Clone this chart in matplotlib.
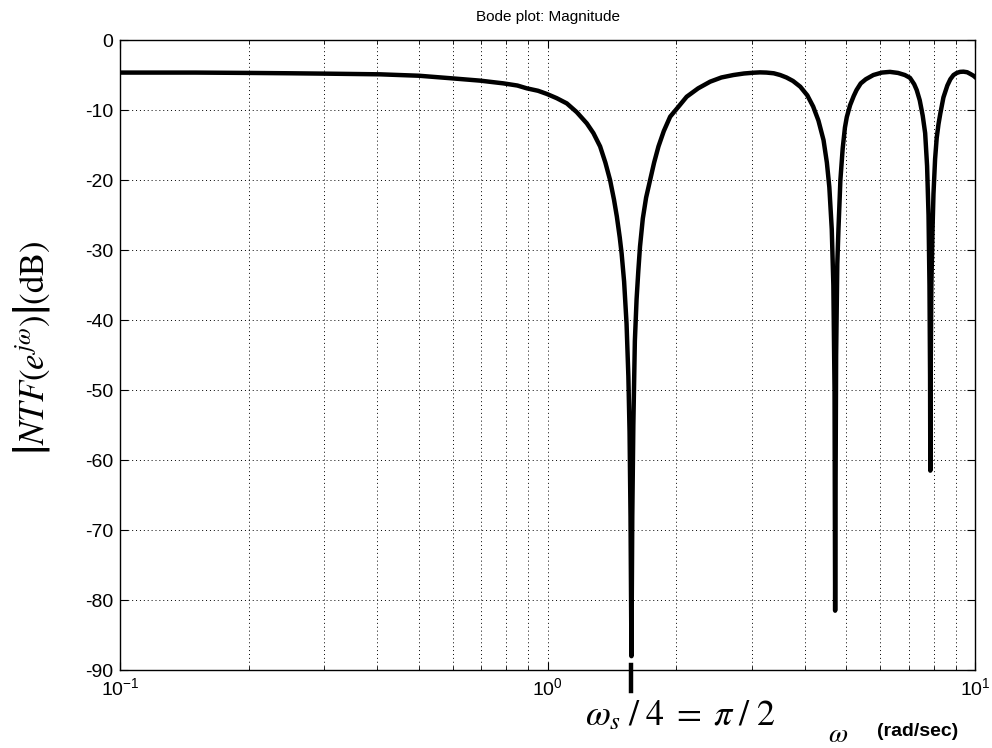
import matplotlib
matplotlib.use("Agg")
import matplotlib.pyplot as plt
import numpy as np

# Bode magnitude of the NTF (rad/sec, dB)
omega = [0.10, 0.15, 0.20, 0.25, 0.30, 0.35, 0.406, 0.45, 0.50, 0.591, 0.695, 0.788,
         0.85, 0.894, 0.95, 0.996, 1.05, 1.109, 1.17, 1.235, 1.28, 1.327, 1.365,
         1.40, 1.43, 1.452, 1.475, 1.49, 1.51, 1.53, 1.545, 1.555, 1.563, 1.5708,
         1.578, 1.587, 1.60, 1.615, 1.63, 1.645, 1.67, 1.70, 1.737, 1.775, 1.817,
         1.87, 1.935, 2.0, 2.115, 2.25, 2.40, 2.55, 2.72, 2.88, 3.03, 3.14, 3.25,
         3.38, 3.50, 3.62, 3.75, 3.90, 4.05, 4.18, 4.30, 4.42, 4.50, 4.56, 4.62,
         4.66, 4.69, 4.705, 4.715, 4.73, 4.76, 4.79, 4.84, 4.90, 4.96, 5.01, 5.10,
         5.20, 5.28, 5.40, 5.55, 5.78, 6.05, 6.32, 6.60, 6.85, 7.04, 7.20, 7.30,
         7.42, 7.54, 7.64, 7.72, 7.78, 7.82, 7.845, 7.855, 7.87, 7.90, 7.95, 7.99,
         8.06, 8.13, 8.21, 8.29, 8.43, 8.61, 8.75, 8.90, 9.06, 9.22, 9.39, 9.58,
         9.75, 9.91, 10.0]
mag_db = [-4.65, -4.65, -4.7, -4.75, -4.8, -4.85, -4.9, -5.0, -5.1, -5.45, -5.8, -6.19,
          -6.5, -6.9, -7.25, -7.7, -8.3, -9.05, -10.3, -11.9, -13.3, -15.2, -17.5,
          -20.0, -22.8, -25.2, -28.2, -30.5, -34.5, -40.5, -48.0, -56.0, -68.0, -88.0,
          -68.0, -55.0, -43.0, -37.0, -33.0, -29.5, -25.5, -22.5, -20.0, -17.5, -15.2,
          -13.0, -10.95, -9.9, -8.1, -6.9, -5.95, -5.35, -5.0, -4.78, -4.67, -4.62, -4.65,
          -4.75, -5.0, -5.35, -5.85, -6.67, -7.9, -9.5, -11.5, -14.3, -17.5, -21.0, -27.0,
          -35.0, -50.0, -81.5, -65.0, -45.0, -32.0, -27.0, -20.0, -15.5, -12.5, -11.0, -9.3,
          -8.0, -7.14, -6.2, -5.6, -5.0, -4.65, -4.55, -4.7, -5.0, -5.4, -6.3, -7.14,
          -8.6, -10.8, -13.3, -18.0, -25.0, -35.0, -48.0, -61.5, -48.0, -35.0, -27.0, -22.0,
          -17.0, -14.0, -12.0, -10.5, -8.2, -6.5, -5.6, -5.0, -4.7, -4.55, -4.52, -4.6,
          -4.85, -5.1, -5.3]

x_ticks = [0.1, 1.0, 10.0]
x_tick_labels = [r'$\mathregular{10^{-1}}$', r'$\mathregular{10^{0}}$', r'$\mathregular{10^{1}}$']
y_ticks = [0, -10, -20, -30, -40, -50, -60, -70, -80, -90]

plt.rcParams['font.family'] = ['Liberation Sans', 'DejaVu Sans']
plt.rcParams['axes.unicode_minus'] = False
plt.rcParams['mathtext.fontset'] = 'stix'

fig = plt.figure(figsize=(9.92, 7.48), dpi=100)
ax = fig.add_axes([0.121, 0.104, 0.862, 0.8425])

ax.semilogx(omega, mag_db, color='black', lw=3.2, solid_joinstyle='round')

# little marker below the first notch at pi/2
ax.plot([np.pi / 2, np.pi / 2], [-89.2, -93.0], color='black', lw=3.2, clip_on=False)

ax.set_xlim(0.1, 10)
ax.set_ylim(-90, 0)
ax.set_xticks(x_ticks)
ax.set_xticklabels(x_tick_labels, fontsize=14)
ax.set_yticks(y_ticks)
ax.set_yticklabels([str(v) for v in y_ticks], fontsize=14)
ax.tick_params(which='both', direction='in', top=True, right=True, length=6)
ax.tick_params(which='minor', length=3)
ax.tick_params(axis='x', pad=5)
ax.tick_params(axis='y', pad=5)

ax.grid(True, which='major', linestyle=(0, (1, 3)), color='black', lw=0.7)
ax.grid(True, which='minor', axis='x', linestyle=(0, (1, 3)), color='black', lw=0.7)
for s in ax.spines.values():
    s.set_linewidth(1.0)

ax.set_title('Bode plot: Magnitude', fontsize=11, pad=14)

fig.text(0.032, 0.535, r'$\left|NTF(e^{j\omega})\right|$(dB)', rotation=90,
         fontsize=25, family='STIXGeneral', ha='center', va='center')

fig.text(0.686, 0.043, r'$\omega_s\;/\;4\;=\;\pi\;/\;2$', fontsize=26,
         ha='center', va='center')

fig.text(0.845, 0.018, r'$\omega$', fontsize=20, ha='center', va='center')
fig.text(0.925, 0.022, '(rad/sec)', fontsize=14, fontweight='bold',
         ha='center', va='center')

fig.savefig('out.png', dpi=100, facecolor='white')
